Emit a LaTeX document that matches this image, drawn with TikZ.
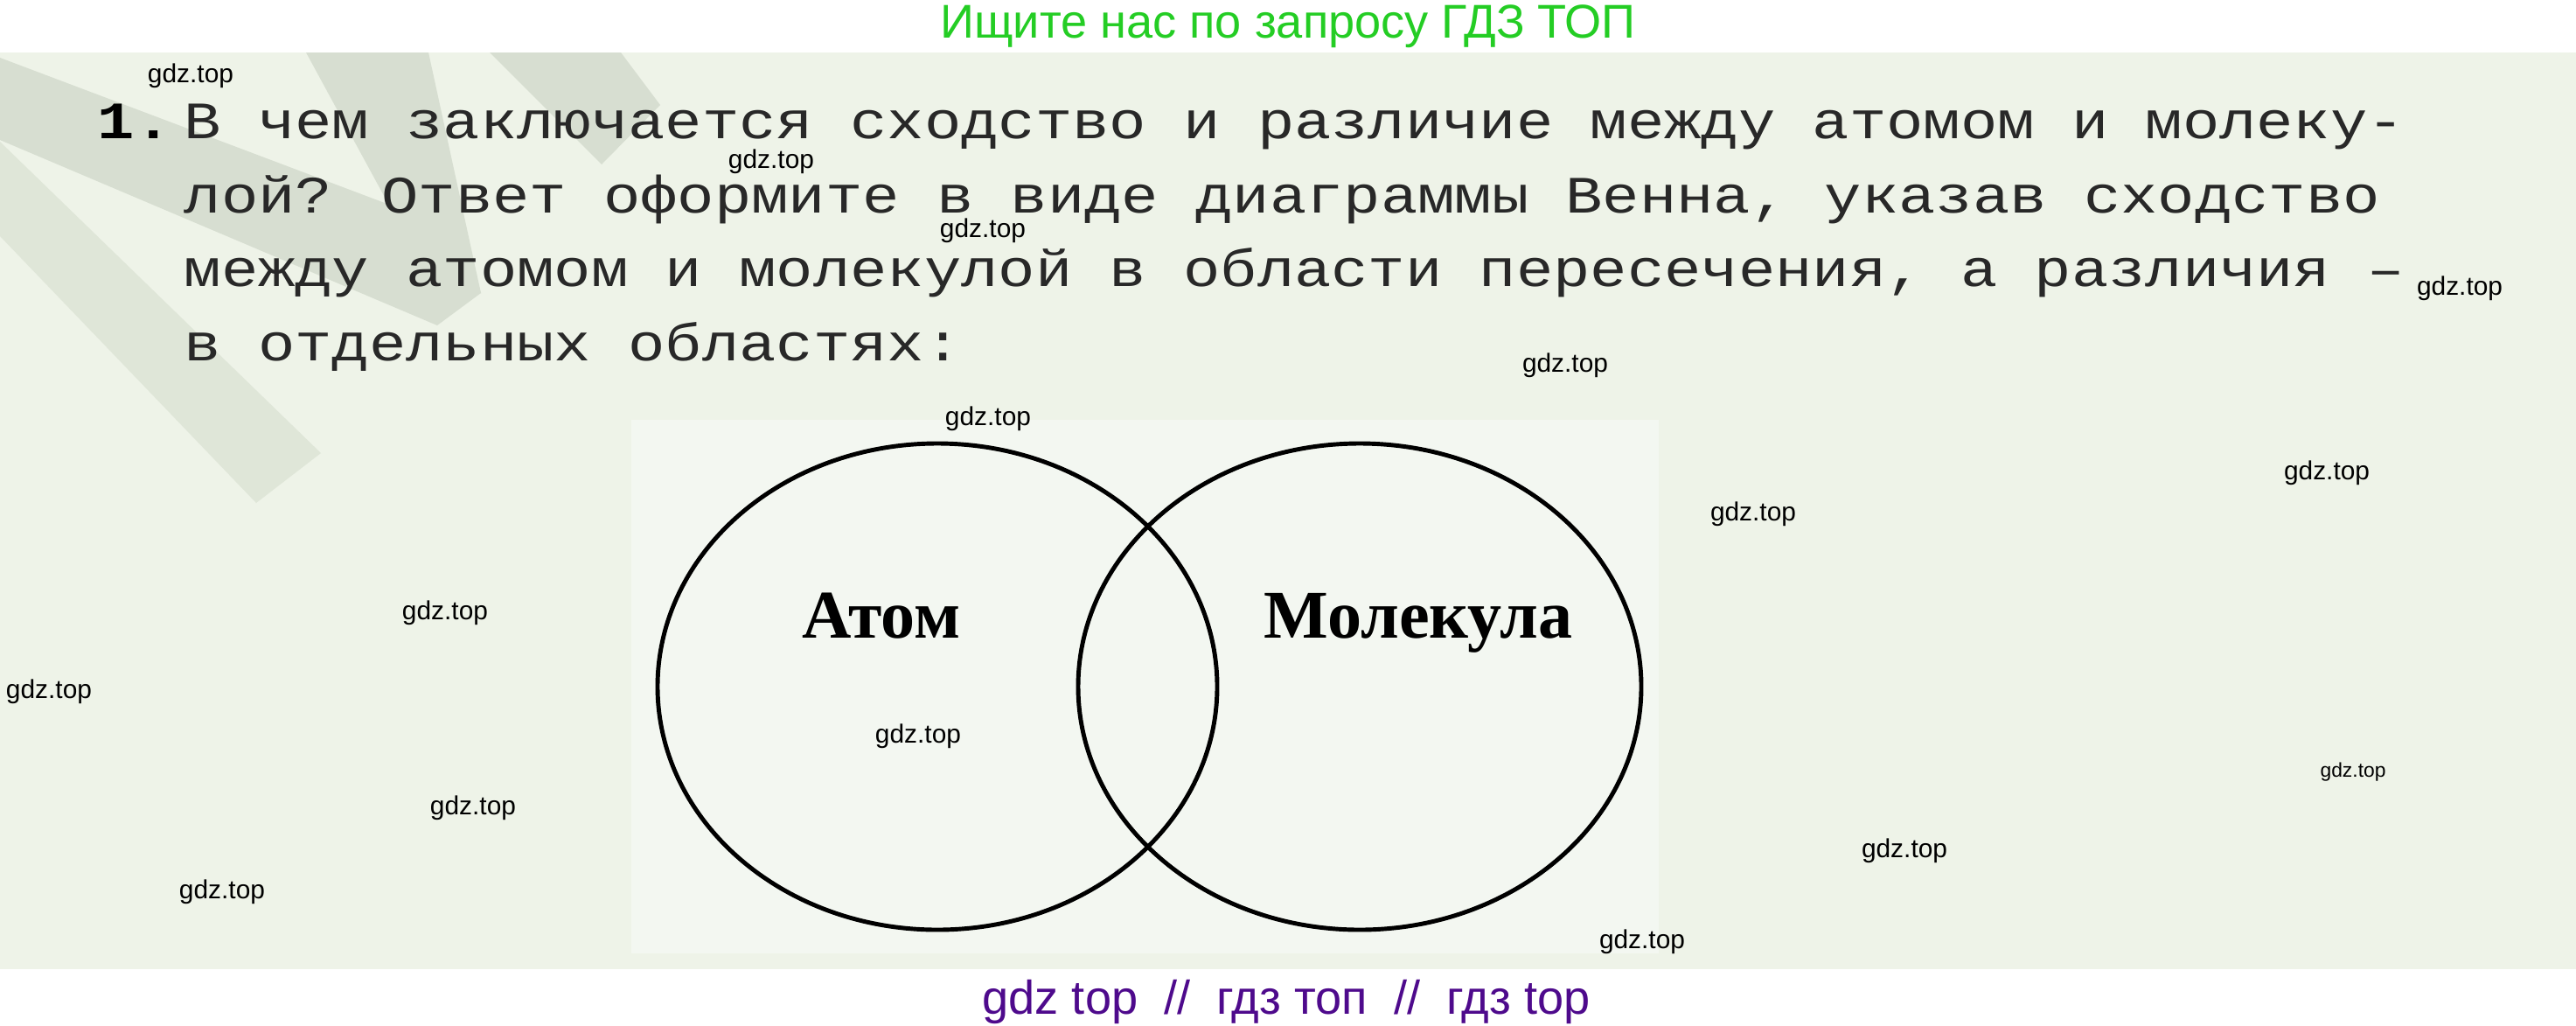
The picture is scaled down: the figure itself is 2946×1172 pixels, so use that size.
\documentclass[tikz,border=0pt]{standalone}
\usepackage{fontspec}
\setmainfont{Liberation Serif}
\newfontfamily\qmono{Liberation Mono}
\newfontfamily\wmsans{Liberation Sans}
\definecolor{fond}{RGB}{238,243,232}
\definecolor{cadre}{RGB}{243,247,241}
\definecolor{bande}{RGB}{215,222,209}
\definecolor{bandeclair}{RGB}{223,230,216}
\definecolor{texte}{RGB}{40,40,40}
\definecolor{vert}{RGB}{36,205,36}
\definecolor{violet}{RGB}{78,10,140}

\begin{document}
\begin{tikzpicture}[x=0.01cm, y=-0.01cm]
\tikzset{wm/.style={inner sep=0, font=\wmsans\fontsize{8.5}{10}\selectfont},
  qline/.style={anchor=base west, inner sep=0, text=texte, font=\qmono\fontsize{17.07}{20}\selectfont},
  nomset/.style={anchor=base, inner sep=0, font=\bfseries\fontsize{22.2}{26}\selectfont},
  pub/.style={anchor=base, inner sep=0, font=\wmsans\fontsize{15.4}{18}\selectfont}}
\useasboundingbox (0,0) rectangle (2946,1172);
\fill[white] (0,0) rectangle (2946,1172);
\fill[fond] (0,60) rectangle (2946,1108);
\fill[bande] (0,66) -- (530,266) -- (550,335) -- (500,372) -- (0,160) -- cycle;
\fill[bande] (350,60) -- (490,60) -- (550,335) -- (505,345) -- cycle;
\fill[bande] (560,60) -- (710,60) -- (755,120) -- (688,188) -- cycle;
\fill[bandeclair] (0,162) -- (367,518) -- (293,575) -- (0,270) -- cycle;
\fill[cadre] (722,480) rectangle (1897,1090);
\draw[line width=1.4pt] (1072,785) ellipse [x radius=320, y radius=278];
\draw[line width=1.4pt] (1555,785) ellipse [x radius=322, y radius=278];
\node[nomset] (A) at (1008,729) {Атом};
\node[nomset] (M) at (1622,729) {Молекула};
\node[qline, text=black, font=\qmono\bfseries\fontsize{17.07}{20}\selectfont] (N) at (111,158) {\scalebox{1.175}[1]{1.}};
\node[qline] (L1) at (210,158) {\scalebox{1.175}[1]{В чем заключается сходство и различие между атомом и молеку-}};
\node[qline] (L2) at (210,243) {\scalebox{1.175}[1]{лой? Ответ оформите в виде диаграммы Венна, указав сходство}};
\node[qline] (L3) at (210,327) {\scalebox{1.175}[1]{между атомом и молекулой в области пересечения, а различия –}};
\node[qline] (L4) at (210,412) {\scalebox{1.175}[1]{в отдельных областях:}};
\node[pub, text=vert] (H) at (1473,43) {Ищите нас по запросу ГДЗ ТОП};
\node[pub, text=violet] (F) at (1471,1159) {gdz top~~//~~гдз топ~~//~~гдз top};
\node[wm] (W1) at (218,87) {gdz.top};
\node[wm] (W2) at (882,185) {gdz.top};
\node[wm] (W3) at (1124,264) {gdz.top};
\node[wm] (W4) at (2813,330) {gdz.top};
\node[wm] (W5) at (1790,418) {gdz.top};
\node[wm] (W6) at (1130,479) {gdz.top};
\node[wm] (W7) at (2661,541) {gdz.top};
\node[wm] (W8) at (2005,588) {gdz.top};
\node[wm] (W9) at (509,701) {gdz.top};
\node[wm] (W10) at (56,791) {gdz.top};
\node[wm] (W11) at (1050,842) {gdz.top};
\node[wm] (W12) at (541,924) {gdz.top};
\node[wm, font=\wmsans\fontsize{6.5}{8}\selectfont] (W13) at (2691,883) {gdz.top};
\node[wm] (W14) at (2178,973) {gdz.top};
\node[wm] (W15) at (254,1020) {gdz.top};
\node[wm] (W16) at (1878,1077) {gdz.top};
\end{tikzpicture}
\end{document}
